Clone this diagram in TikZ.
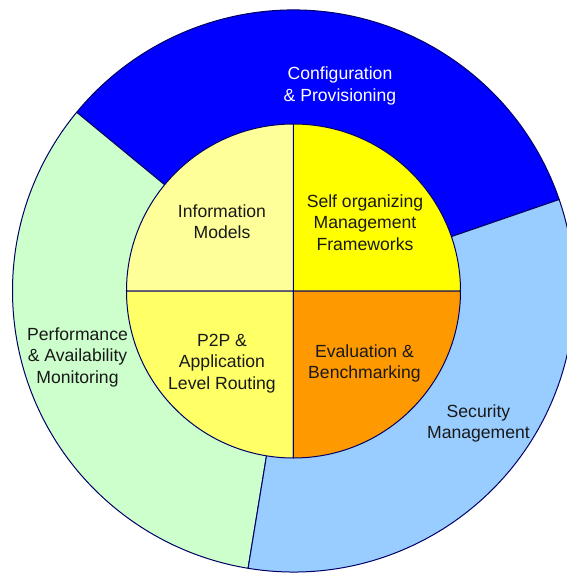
\documentclass[tikz,border=0pt]{standalone}
\usepackage{fontspec}
\setmainfont{Liberation Sans}
\usepackage{xcolor}
\usetikzlibrary{positioning}

\definecolor{cfgblue}{HTML}{0000FF}
\definecolor{secblue}{HTML}{99CCFF}
\definecolor{perfgreen}{HTML}{CCFFCC}
\definecolor{infoyellow}{HTML}{FFFF99}
\definecolor{selfyellow}{HTML}{FFFF00}
\definecolor{p2pyellow}{HTML}{FFFF66}
\definecolor{evalorange}{HTML}{FF9900}
\definecolor{rimline}{HTML}{000066}

\begin{document}
\begin{tikzpicture}[
    sector/.style={draw=rimline, line width=1pt, line join=round},
    label/.style={align=center, text=black!90, inner sep=0pt,
      font=\fontsize{17.6}{21.5}\selectfont}]
  \useasboundingbox (-293.5pt,-283pt) rectangle (273.5pt,291pt);
  \coordinate (c) at (0,0);

  % outer ring
  \filldraw[sector, fill=cfgblue] (c) -- (19:281pt)
    arc[start angle=19, end angle=140.5, radius=281pt] -- cycle;
  \filldraw[sector, fill=perfgreen] (c) -- (140.5:281pt)
    arc[start angle=140.5, end angle=260.7, radius=281pt] -- cycle;
  \filldraw[sector, fill=secblue] (c) -- (260.7:281pt)
    arc[start angle=260.7, end angle=379, radius=281pt] -- cycle;

  % inner disc
  \filldraw[sector, fill=selfyellow] (c) -- (0:167pt)
    arc[start angle=0, end angle=90, radius=167pt] -- cycle;
  \filldraw[sector, fill=infoyellow] (c) -- (90:167pt)
    arc[start angle=90, end angle=180, radius=167pt] -- cycle;
  \filldraw[sector, fill=p2pyellow] (c) -- (180:167pt)
    arc[start angle=180, end angle=270, radius=167pt] -- cycle;
  \filldraw[sector, fill=evalorange] (c) -- (270:167pt)
    arc[start angle=270, end angle=360, radius=167pt] -- cycle;

  \node[label, text=white] (cfg) at (46.5pt,205pt) {Configuration\\\& Provisioning};
  \node[label] (perf) at (-216pt,-66pt) {Performance\\\& Availability\\Monitoring};
  \node[label] (sec) at (185pt,-132.5pt) {Security\\Management};
  \node[label] (info) at (-71.5pt,69.5pt) {Information\\Models};
  \node[label] (selforg) at (71.5pt,68.5pt) {Self organizing\\Management\\Frameworks};
  \node[label] (p2p) at (-71.5pt,-72.5pt) {P2P \&\\Application\\Level Routing};
  \node[label] (eval) at (71pt,-72.3pt) {Evaluation \&\\Benchmarking};
\end{tikzpicture}
\end{document}
